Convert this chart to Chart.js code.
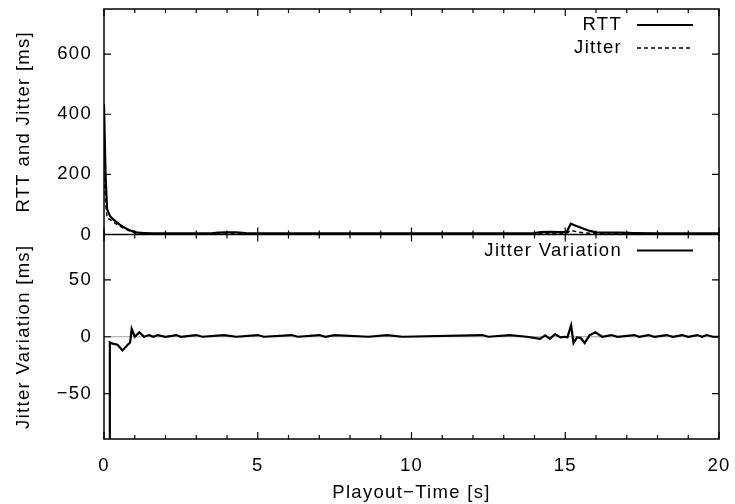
<!DOCTYPE html>
<html>
<head>
<meta charset="utf-8">
<title>RTT and Jitter</title>
<script src="https://cdn.jsdelivr.net/npm/chart.js@4.4.1/dist/chart.umd.min.js"></script>
<style>
  html, body { margin: 0; padding: 0; background: #fff; }
  #wrap { width: 735px; height: 504px; }
</style>
</head>
<body>
<div id="wrap"><canvas id="chart" width="735" height="504"></canvas></div>
<script>
// upper panel: RTT and jitter over playout time
const timeRtt = [0, 0.05, 0.1, 0.2, 0.3, 0.4, 0.5, 0.6, 0.7, 0.8, 0.9, 1.0, 1.1, 1.3, 1.6, 2.0, 2.5, 3.0, 3.5, 3.7,
  4.0, 4.3, 4.6, 5.0, 6.0, 7.0, 8.0, 9.0, 10.0, 11.0, 12.0, 13.0, 13.6, 14.0, 14.2, 14.5, 14.8, 15.05, 15.18, 15.3,
  15.45, 15.6, 15.8, 16.0, 16.4, 16.8, 17.2, 18.0, 19.0, 20.0];
const rtt = [433, 200, 84, 61, 50, 42, 34, 27, 21, 16, 12, 9, 6, 5, 4, 4, 4, 4, 4, 6,
  7, 7, 5, 4, 4, 4, 4, 4, 4, 4, 4, 4, 4, 5, 8, 9, 8, 9, 36, 31,
  25, 19, 12, 7, 6, 6, 5, 4, 4, 4];
const jitter = [190, 110, 55, 50, 42, 35, 29, 23, 18, 13, 9, 6, 4, 3, 2, 2, 2, 2, 2, 2,
  3, 3, 2, 2, 2, 2, 2, 2, 2, 2, 2, 2, 2, 3, 4, 4, 4, 4, 14, 11,
  8, 6, 4, 3, 2, 2, 2, 2, 2, 2];

// lower panel: jitter variation
const timeVar = [0.17, 0.19, 0.28, 0.44, 0.6, 0.77, 0.85, 0.9, 1.0, 1.15, 1.3, 1.47, 1.6, 1.75, 2.0, 2.35, 2.5, 3.0, 3.2,
  3.9, 4.3, 5.0, 5.2, 6.1, 6.3, 7.0, 7.2, 7.5, 8.6, 9.2, 9.7, 12.3, 12.5, 13.2, 13.75, 14.18, 14.35, 14.5, 14.67,
  14.84, 15.0, 15.07, 15.19, 15.27, 15.38, 15.5, 15.63, 15.79, 15.98, 16.2, 16.5, 16.7, 17.25, 17.4, 17.7, 17.9,
  18.3, 18.5, 18.8, 19.0, 19.3, 19.45, 19.6, 19.8, 20.0];
const jitterVar = [-250, -5, -6, -7, -12, -7, -5, 7, 0, 4, 0, 1.5, 0, 1.5, 0, 1.5, 0, 1.5, 0,
  1.5, 0, 1.5, 0, 1.5, 0, 1.5, 0, 1.5, 0, 1.5, 0, 1.5, 0, 1.5, 0, -1.8, 1.2, -1.8, 2.4,
  -0.6, 0, -0.6, 10, -5.5, -0.6, -1, -5.5, 1.2, 4, 0, 1.5, 0, 1.5, 0, 1.5, 0,
  1.5, 0, 1.5, 0, 1.5, 0, 1.5, 0, 0];

const xTicks = [0, 5, 10, 15, 20];
const rttTicks = [0, 200, 400, 600];
const varTicks = [-50, 0, 50];

const FONT = "'Liberation Sans', Arial, Helvetica, sans-serif";
const SPACING = "1.3px";

function points(xs, ys) {
  return xs.map((x, i) => ({ x: x, y: ys[i] }));
}

function minus(v) {
  return String(v).replace("-", "\u2212");
}

// keep chart area fixed: no extra room for overhanging tick labels
function noOverhang(s) {
  s.paddingTop = 0;
  s.paddingBottom = 0;
  s.paddingLeft = 0;
  s.paddingRight = 0;
}

// gnuplot style frame: border, inward ticks, zero line and key
const framePlugin = {
  id: "frame",
  beforeDraw(chart) {
    chart.ctx.letterSpacing = SPACING;
  },
  beforeDatasetsDraw(chart) {
    const { ctx, chartArea } = chart;
    const y0 = chart.scales.yVar.getPixelForValue(0);
    ctx.save();
    ctx.strokeStyle = "#a0a0a0";
    ctx.lineWidth = 1;
    ctx.beginPath();
    ctx.moveTo(chartArea.left, y0);
    ctx.lineTo(chartArea.right, y0);
    ctx.stroke();
    ctx.restore();
  },
  afterDatasetsDraw(chart) {
    const { ctx, chartArea } = chart;
    const x = chart.scales.x;
    const yR = chart.scales.yRtt;
    const yV = chart.scales.yVar;
    const left = chartArea.left, right = chartArea.right;
    const top = yR.top, mid = yR.bottom, bottom = yV.bottom;

    ctx.save();
    ctx.strokeStyle = "#000";
    ctx.lineWidth = 1.5;
    ctx.strokeRect(left, top, right - left, bottom - top);
    ctx.beginPath();
    ctx.moveTo(left, mid);
    ctx.lineTo(right, mid);
    ctx.stroke();

    ctx.lineWidth = 1.2;
    ctx.beginPath();
    for (let v = x.min; v <= x.max; v++) {
      const px = x.getPixelForValue(v);
      const len = xTicks.includes(v) ? 7 : 4;
      ctx.moveTo(px, top); ctx.lineTo(px, top + len);
      ctx.moveTo(px, mid - len); ctx.lineTo(px, mid + len);
      ctx.moveTo(px, bottom); ctx.lineTo(px, bottom - len);
    }
    rttTicks.forEach(v => {
      const py = yR.getPixelForValue(v);
      ctx.moveTo(left, py); ctx.lineTo(left + 7, py);
      ctx.moveTo(right, py); ctx.lineTo(right - 7, py);
    });
    varTicks.forEach(v => {
      const py = yV.getPixelForValue(v);
      ctx.moveTo(left, py); ctx.lineTo(left + 7, py);
      ctx.moveTo(right, py); ctx.lineTo(right - 7, py);
    });
    ctx.stroke();

    // key
    ctx.font = "18.5px " + FONT;
    ctx.fillStyle = "#000";
    ctx.textAlign = "right";
    ctx.textBaseline = "middle";
    const keys = [
      { ds: chart.data.datasets[0], y: top + 16 },
      { ds: chart.data.datasets[1], y: top + 39 },
      { ds: chart.data.datasets[2], y: mid + 16 }
    ];
    keys.forEach(k => {
      ctx.fillText(k.ds.label, right - 97, k.y);
      ctx.lineWidth = k.ds.borderWidth;
      ctx.setLineDash(k.ds.borderDash || []);
      ctx.beginPath();
      ctx.moveTo(right - 82, k.y);
      ctx.lineTo(right - 26, k.y);
      ctx.stroke();
    });
    ctx.restore();
  }
};

Chart.defaults.font.family = FONT;
Chart.defaults.font.size = 18.5;
Chart.defaults.color = "#000";

new Chart(document.getElementById("chart"), {
  type: "line",
  data: {
    datasets: [
      {
        label: "RTT",
        data: points(timeRtt, rtt),
        yAxisID: "yRtt",
        borderColor: "#000",
        borderWidth: 2.2,
        pointRadius: 0
      },
      {
        label: "Jitter",
        data: points(timeRtt, jitter),
        yAxisID: "yRtt",
        borderColor: "#000",
        borderWidth: 1.5,
        borderDash: [4, 3],
        pointRadius: 0
      },
      {
        label: "Jitter Variation",
        data: points(timeVar, jitterVar),
        yAxisID: "yVar",
        borderColor: "#000",
        borderWidth: 2.2,
        pointRadius: 0
      }
    ]
  },
  options: {
    responsive: false,
    animation: false,
    devicePixelRatio: 1,
    layout: { padding: { top: 9, right: 16, left: 0, bottom: 0 } },
    plugins: { legend: { display: false }, tooltip: { enabled: false } },
    scales: {
      x: {
        type: "linear",
        min: 0,
        max: 20,
        afterBuildTicks: s => { s.ticks = xTicks.map(v => ({ value: v })); },
        afterFit: s => { s.height = 65; noOverhang(s); },
        ticks: { padding: 16, maxRotation: 0 },
        grid: { display: false, drawTicks: false },
        border: { display: false },
        title: { display: true, text: "Playout\u2212Time [s]", padding: { top: 0, bottom: 0 } }
      },
      yVar: {
        type: "linear",
        position: "left",
        stack: "panels",
        stackWeight: 204,
        min: -90,
        max: 90,
        afterBuildTicks: s => { s.ticks = varTicks.map(v => ({ value: v })); },
        afterFit: s => { s.width = 104; noOverhang(s); },
        ticks: { padding: 12, callback: v => minus(v) },
        grid: { display: false, drawTicks: false },
        border: { display: false },
        title: { display: true, text: "Jitter Variation [ms]", padding: { top: 13, bottom: 0 } }
      },
      yRtt: {
        type: "linear",
        position: "left",
        stack: "panels",
        stackWeight: 225,
        min: 0,
        max: 750,
        afterBuildTicks: s => { s.ticks = rttTicks.map(v => ({ value: v })); },
        afterFit: s => { s.width = 104; noOverhang(s); },
        ticks: { padding: 12 },
        grid: { display: false, drawTicks: false },
        border: { display: false },
        title: { display: true, text: "RTT and Jitter [ms]", padding: { top: 13, bottom: 0 } }
      }
    }
  },
  plugins: [framePlugin]
});
</script>
</body>
</html>
